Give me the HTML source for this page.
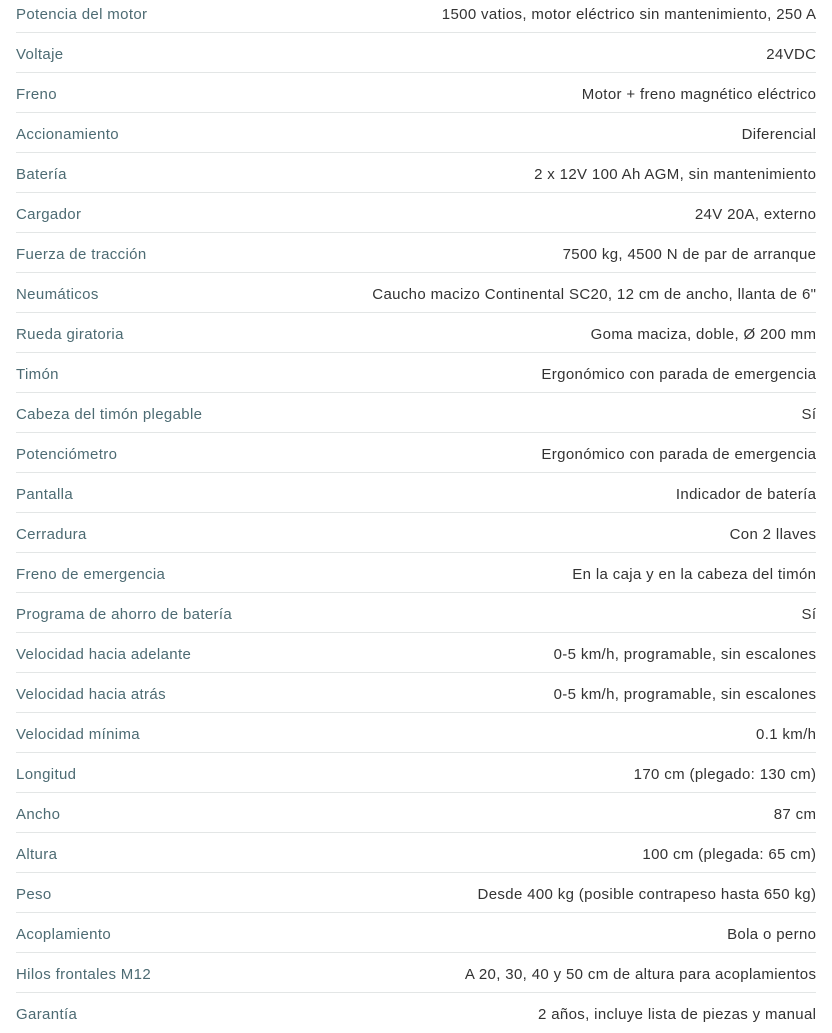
<!DOCTYPE html>
<html><head><meta charset="utf-8"><style>
body{margin:0;width:832px;height:1024px;overflow:hidden;background:#fff;font-family:"Liberation Sans",sans-serif;font-size:15px;letter-spacing:0.35px}
.t{position:absolute;top:-7px;left:16px;width:800px}
.r{height:39px;border-bottom:1px solid #e3e6e6;display:flex;justify-content:space-between;align-items:center;padding-top:3px;box-sizing:border-box;height:40px}
.r:last-child{border-bottom:none}
.l{color:#4d6b73}.v{color:#333;margin-right:-0.35px}
</style></head><body><div class="t">
<div class="r"><span class="l">Potencia del motor</span><span class="v">1500 vatios, motor eléctrico sin mantenimiento, 250 A</span></div>
<div class="r"><span class="l">Voltaje</span><span class="v">24VDC</span></div>
<div class="r"><span class="l">Freno</span><span class="v">Motor + freno magnético eléctrico</span></div>
<div class="r"><span class="l">Accionamiento</span><span class="v">Diferencial</span></div>
<div class="r"><span class="l">Batería</span><span class="v">2 x 12V 100 Ah AGM, sin mantenimiento</span></div>
<div class="r"><span class="l">Cargador</span><span class="v">24V 20A, externo</span></div>
<div class="r"><span class="l">Fuerza de tracción</span><span class="v">7500 kg, 4500 N de par de arranque</span></div>
<div class="r"><span class="l">Neumáticos</span><span class="v">Caucho macizo Continental SC20, 12 cm de ancho, llanta de 6"</span></div>
<div class="r"><span class="l">Rueda giratoria</span><span class="v">Goma maciza, doble, Ø 200 mm</span></div>
<div class="r"><span class="l">Timón</span><span class="v">Ergonómico con parada de emergencia</span></div>
<div class="r"><span class="l">Cabeza del timón plegable</span><span class="v">Sí</span></div>
<div class="r"><span class="l">Potenciómetro</span><span class="v">Ergonómico con parada de emergencia</span></div>
<div class="r"><span class="l">Pantalla</span><span class="v">Indicador de batería</span></div>
<div class="r"><span class="l">Cerradura</span><span class="v">Con 2 llaves</span></div>
<div class="r"><span class="l">Freno de emergencia</span><span class="v">En la caja y en la cabeza del timón</span></div>
<div class="r"><span class="l">Programa de ahorro de batería</span><span class="v">Sí</span></div>
<div class="r"><span class="l">Velocidad hacia adelante</span><span class="v">0-5 km/h, programable, sin escalones</span></div>
<div class="r"><span class="l">Velocidad hacia atrás</span><span class="v">0-5 km/h, programable, sin escalones</span></div>
<div class="r"><span class="l">Velocidad mínima</span><span class="v">0.1 km/h</span></div>
<div class="r"><span class="l">Longitud</span><span class="v">170 cm (plegado: 130 cm)</span></div>
<div class="r"><span class="l">Ancho</span><span class="v">87 cm</span></div>
<div class="r"><span class="l">Altura</span><span class="v">100 cm (plegada: 65 cm)</span></div>
<div class="r"><span class="l">Peso</span><span class="v">Desde 400 kg (posible contrapeso hasta 650 kg)</span></div>
<div class="r"><span class="l">Acoplamiento</span><span class="v">Bola o perno</span></div>
<div class="r"><span class="l">Hilos frontales M12</span><span class="v">A 20, 30, 40 y 50 cm de altura para acoplamientos</span></div>
<div class="r"><span class="l">Garantía</span><span class="v">2 años, incluye lista de piezas y manual</span></div>
</div></body></html>
